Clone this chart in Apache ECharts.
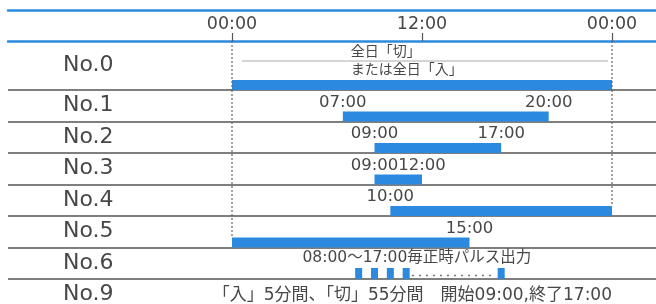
<!DOCTYPE html>
<html>
<head>
<meta charset="utf-8">
<script src="https://cdn.jsdelivr.net/npm/echarts@6/dist/echarts.min.js"></script>
<style>
  html, body { margin: 0; padding: 0; background: #fff; }
  #chart { width: 656px; height: 304px; }
</style>
</head>
<body>
<div id="chart"></div>
<script>
// 行ラベル
const rowNames = ['No.0', 'No.1', 'No.2', 'No.3', 'No.4', 'No.5', 'No.6', 'No.9'];
// 「入」時間帯（時）
const barStart = [0, 7, 9, 9, 10, 0];
const barEnd = [24, 20, 17, 12, 24, 15];
const startLabels = ['', '07:00', '09:00', '09:00', '10:00', ''];
const endLabels = ['', '20:00', '17:00', '12:00', '', '15:00'];
// No.6 毎正時パルス
const pulseHours = [8, 9, 10, 11, 17];
// 目盛
const tickHours = [0, 12, 24];
const tickLabels = ['00:00', '12:00', '00:00'];
// 注記
const note0 = ['全日「切」', 'または全日「入」'];
const note6 = '08:00～17:00毎正時パルス出力';
const note9 = '「入」5分間、「切」55分間　開始09:00,終了17:00';

// レイアウト
const W = 656, GRID_L = 8, X0 = 232, X24 = 612;
const pxPerH = (X24 - X0) / 24;
const xMin = -(X0 - GRID_L) / pxPerH;
const xMax = 24 + (W - X24) / pxPerH;
const BLUE = '#2b8ae0', LINE = '#555', TEXT = '#474747';
const FONT = '"DejaVu Sans", "Noto Sans CJK JP", sans-serif';
const CJK = '"Noto Sans CJK JP", sans-serif';
const BAR_H = 10;

let chart = echarts.init(document.getElementById('chart'));

function barItem(params, api) {
  const row = api.value(0);
  const i = api.value(3);
  const p0 = api.coord([api.value(1), row]);
  const p1 = api.coord([api.value(2), row]);
  const band = api.size([0, 1])[1];
  const top = p0[1] + band / 2 - BAR_H;
  const children = [{
    type: 'rect',
    shape: { x: p0[0], y: top, width: p1[0] - p0[0], height: BAR_H },
    style: { fill: BLUE }
  }];
  const lab = (txt, x) => ({
    type: 'text', x: x, y: top - 1,
    style: { text: txt, fill: TEXT, fontSize: 16.5, fontFamily: FONT, align: 'center', verticalAlign: 'bottom' }
  });
  if (startLabels[i]) children.push(lab(startLabels[i], p0[0]));
  if (endLabels[i]) children.push(lab(endLabels[i], p1[0]));
  if (i === 0) {
    children.push({
      type: 'line',
      shape: { x1: p0[0] + 10, y1: top - 19, x2: p1[0] - 4, y2: top - 19 },
      style: { stroke: '#aaa', lineWidth: 1 }
    });
    children.push({
      type: 'text', x: api.coord([7.5, row])[0], y: top - 2,
      style: { text: note0.join('\n'), fill: TEXT, fontSize: 14, lineHeight: 18, fontFamily: CJK, align: 'left', verticalAlign: 'bottom' }
    });
  }
  return { type: 'group', children: children };
}

function guideItem(params, api) {
  const row = api.value(1);
  const p = api.coord([api.value(0), row]);
  const band = api.size([0, 1])[1];
  const y1 = params.coordSys.y;
  const y2 = row < 0 ? y1 + params.coordSys.height : p[1] + band / 2 - BAR_H;
  return {
    type: 'line',
    shape: { x1: p[0], y1: y1, x2: p[0], y2: y2 },
    style: { stroke: '#666', lineWidth: 1.2, lineDash: [2, 2] }
  };
}

function pulseItem(params, api) {
  const row = api.value(0);
  const k = params.dataIndex;
  const p = api.coord([api.value(1), row]);
  const band = api.size([0, 1])[1];
  const bottom = p[1] + band / 2;
  const children = [{
    type: 'rect',
    shape: { x: p[0] - 3.5, y: bottom - 11, width: 7, height: 11 },
    style: { fill: BLUE }
  }];
  if (k < pulseHours.length - 1 && pulseHours[k + 1] - pulseHours[k] > 1) {
    const pn = api.coord([pulseHours[k + 1], row]);
    children.push({
      type: 'line',
      shape: { x1: p[0] + 6, y1: bottom - 3.5, x2: pn[0] - 5, y2: bottom - 3.5 },
      style: { stroke: '#555', lineWidth: 1.6, lineDash: [1.6, 5.4] }
    });
  }
  if (k === 0) {
    const pl = api.coord([pulseHours[pulseHours.length - 1], row]);
    children.push({
      type: 'text', x: (p[0] + pl[0]) / 2 - 13, y: bottom - 13,
      style: { text: note6, fill: TEXT, fontSize: 15.5, fontFamily: FONT, align: 'center', verticalAlign: 'bottom' }
    });
  }
  return { type: 'group', children: children };
}

function noteItem(params, api) {
  const p = api.coord([api.value(1), api.value(0)]);
  return {
    type: 'text', x: p[0], y: p[1] + 1,
    style: { text: note9, fill: TEXT, fontSize: 17, fontFamily: FONT, align: 'right', verticalAlign: 'middle' }
  };
}

// 0時・24時の点線は、その時刻に接する最後の行のバーまで下ろす
function lastRowAt(h) {
  let r = 0;
  for (let i = 0; i < barStart.length; i++) {
    if (barStart[i] === h || barEnd[i] === h) r = i;
  }
  return r;
}

const bodyRows = rowNames.slice(1);
const barData = [];
for (let i = 1; i < barStart.length; i++) barData.push([i - 1, barStart[i], barEnd[i], i]);

let option = {
  animation: false,
  grid: [
    { left: GRID_L, right: 0, top: 10, height: 31, outerBoundsMode: 'none' },
    { left: GRID_L, right: 0, top: 41, height: 49, outerBoundsMode: 'none' },
    { left: GRID_L, right: 0, top: 90, height: 7 * 31.5, outerBoundsMode: 'none' }
  ],
  xAxis: [
    {
      gridIndex: 0, type: 'value', position: 'bottom', min: xMin, max: xMax,
      axisLine: { show: true, lineStyle: { color: BLUE, width: 2.5 } },
      axisTick: { show: true, customValues: tickHours, inside: true, length: 8, lineStyle: { color: LINE, width: 1.2 } },
      axisLabel: {
        show: true, customValues: tickHours, inside: true, margin: 8,
        color: TEXT, fontSize: 17.5, fontFamily: FONT,
        formatter: v => tickLabels[tickHours.indexOf(v)]
      },
      splitLine: { show: false }
    },
    {
      gridIndex: 0, type: 'value', position: 'top', min: xMin, max: xMax,
      axisLine: { show: true, lineStyle: { color: BLUE, width: 2.5 } },
      axisTick: { show: false }, axisLabel: { show: false }, splitLine: { show: false }
    },
    { gridIndex: 1, type: 'value', min: xMin, max: xMax, show: false },
    { gridIndex: 2, type: 'value', min: xMin, max: xMax, show: false }
  ],
  yAxis: [
    { gridIndex: 0, type: 'value', show: false },
    {
      gridIndex: 1, type: 'category', data: rowNames.slice(0, 1),
      axisLine: { show: false }, axisTick: { show: false }, splitLine: { show: false },
      axisLabel: { inside: true, margin: 55, padding: [6, 0, 0, 0], color: TEXT, fontSize: 22, fontFamily: FONT }
    },
    {
      gridIndex: 2, type: 'category', data: bodyRows, inverse: true,
      axisLine: { show: false }, axisTick: { show: false },
      axisLabel: { inside: true, interval: 0, margin: 55, padding: [4, 0, 0, 0], color: TEXT, fontSize: 22, fontFamily: FONT },
      splitLine: { show: true, interval: 0, lineStyle: { color: LINE, width: 1.5 } }
    }
  ],
  series: [
    {
      type: 'custom', xAxisIndex: 2, yAxisIndex: 1, renderItem: barItem,
      encode: { x: [1, 2], y: 0 },
      data: [[0, barStart[0], barEnd[0], 0]]
    },
    {
      type: 'custom', xAxisIndex: 2, yAxisIndex: 1, renderItem: guideItem,
      encode: { x: 0 },
      data: [[0, -1], [24, -1]]
    },
    {
      type: 'custom', xAxisIndex: 3, yAxisIndex: 2, renderItem: guideItem,
      encode: { x: 0 },
      data: [[0, lastRowAt(0) - 1], [24, lastRowAt(24) - 1]]
    },
    {
      type: 'custom', xAxisIndex: 3, yAxisIndex: 2, renderItem: barItem,
      encode: { x: [1, 2], y: 0 },
      data: barData
    },
    {
      type: 'custom', xAxisIndex: 3, yAxisIndex: 2, renderItem: pulseItem,
      encode: { x: 1, y: 0 },
      data: pulseHours.map(h => [rowNames.indexOf('No.6') - 1, h])
    },
    {
      type: 'custom', xAxisIndex: 3, yAxisIndex: 2, renderItem: noteItem,
      encode: { x: 1, y: 0 },
      data: [[rowNames.indexOf('No.9') - 1, 24]]
    }
  ]
};

chart.setOption(option);
window.addEventListener('resize', () => {
  chart.resize();
}, true);
</script>
</body>
</html>
